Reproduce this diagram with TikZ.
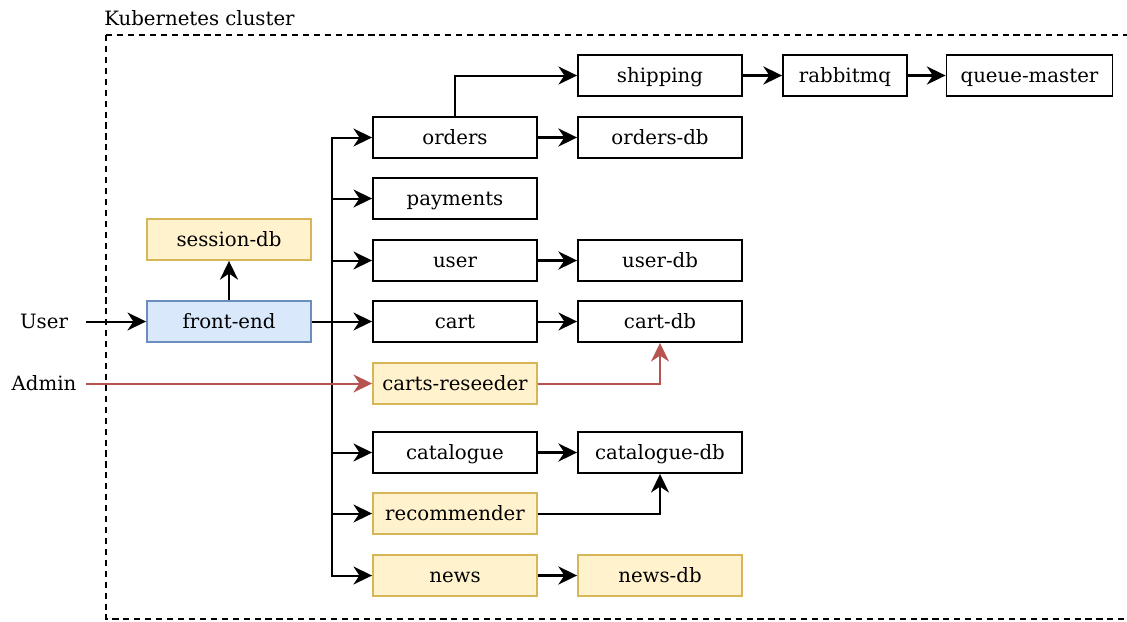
\documentclass[tikz,border=0pt]{standalone}
\usepackage{fontspec}
\setmainfont{DejaVu Serif}
\usetikzlibrary{arrows.meta}
\definecolor{blueFill}{HTML}{DAE8FC}
\definecolor{blueLine}{HTML}{6C8EBF}
\definecolor{yelFill}{HTML}{FFF2CC}
\definecolor{yelLine}{HTML}{D6B656}
\definecolor{redLine}{HTML}{B85450}
\tikzset{
  svc/.style={draw=black, fill=white, line width=1.4pt, minimum width=123pt,
    minimum height=30.75pt, inner sep=0pt, text height=13pt, text depth=2.5pt,
    font=\fontsize{14.8}{17}\selectfont},
  mq/.style={minimum width=93pt},
  newsvc/.style={fill=yelFill, draw=yelLine},
  entry/.style={fill=blueFill, draw=blueLine},
  tip/.style={-{Stealth[length=14pt,width=13.5pt,inset=4.5pt]}},
  conn/.style={tip, line width=1.5pt, draw=black},
  strong/.style={tip, line width=2.2pt, draw=black},
  admin/.style={tip, line width=1.5pt, draw=redLine},
  plain/.style={font=\fontsize{14.8}{17}\selectfont, inner sep=0pt}
}
\begin{document}
\begin{tikzpicture}[x=0.75pt, y=-0.75pt]
\useasboundingbox (0,0) rectangle (1127,621);
\begin{scope}
  \clip (0,0) rectangle (1127,621);
  \draw[line width=1.4pt, dash pattern=on 4.6pt off 3.6pt] (106,35) -- (1140,35) (106,35) -- (106,619) -- (1140,619);
\end{scope}
\node[plain, anchor=base west] (k8s) at (104,26) {Kubernetes cluster};

% services
\node[svc] (shipping) at (660,75.5) {shipping};
\node[svc, mq] (rabbit) at (845,75.5) {rabbitmq};
\node[svc, minimum width=124.5pt] (qm) at (1029.5,75.5) {queue-master};
\node[svc] (orders) at (455,137.5) {orders};
\node[svc] (ordersdb) at (660,137.5) {orders-db};
\node[svc] (payments) at (455,198.5) {payments};
\node[svc, newsvc] (sessiondb) at (229,239.5) {session-db};
\node[svc] (user) at (455,260.5) {user};
\node[svc] (userdb) at (660,260.5) {user-db};
\node[svc, entry] (fe) at (229,321.5) {front-end};
\node[svc] (cart) at (455,321.5) {cart};
\node[svc] (cartdb) at (660,321.5) {cart-db};
\node[svc, newsvc] (reseed) at (455,383.5) {carts-reseeder};
\node[svc] (cat) at (455,452.5) {catalogue};
\node[svc] (catdb) at (660,452.5) {catalogue-db};
\node[svc, newsvc] (rec) at (455,513.5) {recommender};
\node[svc, newsvc] (news) at (455,575.5) {news};
\node[svc, newsvc] (newsdb) at (660,575.5) {news-db};

% external actors
\node[plain] (usr) at (44,321.5) {User};
\node[plain] (adm) at (44,383.5) {Admin};
\coordinate (usrEnd) at (86,321.5);
\coordinate (admEnd) at (86,383.5);

% trunk from the front-end
\coordinate (tTop) at (332,137.5);
\coordinate (tBot) at (332,575.5);
\draw[line width=1.5pt] (fe.east) -- (fe.east -| tTop);
\draw[line width=1.5pt, line cap=rect] (tTop) -- (tBot);
\foreach \s in {orders,payments,user,cart,cat,rec,news}
  \draw[conn] (tTop |- \s.west) -- (\s.west);

% admin path
\draw[admin] (admEnd) -- (reseed.west);
\draw[admin] (reseed.east) -| (cartdb.south);

\draw[conn] (usrEnd) -- (fe.west);
\draw[strong] (fe.north) -- (sessiondb.south);

\draw[strong] (orders.east) -- (ordersdb.west);
\draw[conn] (orders.north) |- (shipping.west);
\draw[strong] (shipping.east) -- (rabbit.west);
\draw[strong] (rabbit.east) -- (qm.west);
\draw[strong] (user.east) -- (userdb.west);
\draw[conn] (cart.east) -- (cartdb.west);
\draw[strong] (cat.east) -- (catdb.west);
\draw[conn] (rec.east) -| (catdb.south);
\draw[strong] (news.east) -- (newsdb.west);
\end{tikzpicture}
\end{document}
